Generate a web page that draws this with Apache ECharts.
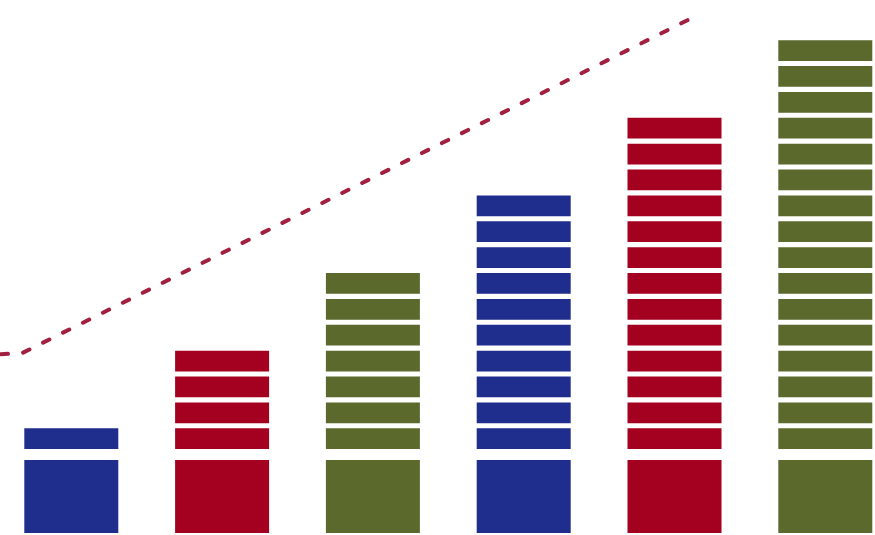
<!DOCTYPE html>
<html>
<head>
<meta charset="utf-8">
<script src="https://cdn.jsdelivr.net/npm/echarts@6/dist/echarts.min.js"></script>
<style>
html,body{margin:0;padding:0;background:#ffffff;}
#chart{width:875px;height:535px;}
</style>
</head>
<body>
<div id="chart"></div>
<script>
// ---- data ----
const categories = ['1', '2', '3', '4', '5', '6'];
const segmentCounts = [1, 4, 7, 10, 13, 16];       // stacked blocks above the base
const baseValues = [2.82, 2.82, 2.82, 2.82, 2.82, 2.82];
const trendX = [0.527, 0.673, 5.10];
const trendY = [6.91, 6.95, 19.86];

// ---- style ----
const barColors = ['#1f2d8d', '#a4001f', '#5c692d', '#1f2d8d', '#a4001f', '#5c692d'];
const SEG = 0.8, GAP = 0.2, BASE_GAP = 0.425;

const chart = echarts.init(document.getElementById('chart'), null, {renderer: 'canvas'});

const colorFn = p => barColors[p.dataIndex];
const series = [];
series.push({
  type: 'bar', stack: 'total', barWidth: 94, silent: true,
  data: baseValues,
  itemStyle: {color: colorFn}
});
const maxCount = Math.max(...segmentCounts);
for (let k = 1; k <= maxCount; k++) {
  series.push({
    type: 'bar', stack: 'total', barWidth: 94, silent: true,
    data: segmentCounts.map(n => k <= n ? (k === 1 ? BASE_GAP : GAP) : '-'),
    itemStyle: {color: 'rgba(0,0,0,0)'}
  });
  series.push({
    type: 'bar', stack: 'total', barWidth: 94, silent: true,
    data: segmentCounts.map(n => k <= n ? SEG : '-'),
    itemStyle: {color: colorFn}
  });
}
series.push({
  type: 'line', xAxisIndex: 1, silent: true, symbol: 'none',
  data: trendX.map((x, i) => [x, trendY[i]]),
  lineStyle: {color: '#a21f3f', width: 4, type: [7, 15.3], dashOffset: 21.3, cap: 'round'},
  z: 10
});

chart.setOption({
  animation: false,
  backgroundColor: '#ffffff',
  grid: {left: -4.1, right: -25.7, top: 0, bottom: 2, outerBoundsMode: 'none', containLabel: false},
  xAxis: [
    {type: 'category', data: categories, show: false},
    {type: 'value', min: 0.5, max: 6.5, show: false}
  ],
  yAxis: {type: 'value', min: 0, max: 20.6, show: false},
  series: series
});
</script>
</body>
</html>
